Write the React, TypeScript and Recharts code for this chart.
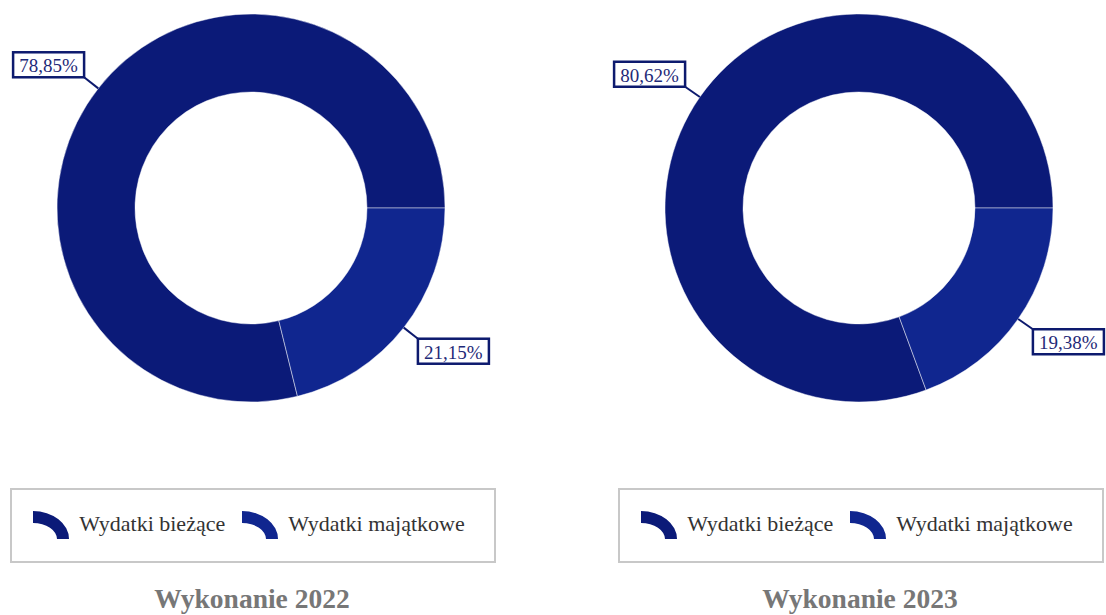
import React from 'react'
import { PieChart, Pie, Cell } from 'recharts'

const categories = ['Wydatki bieżące', 'Wydatki majątkowe']
const values2022 = [78.85, 21.15]
const values2023 = [80.62, 19.38]
const colors = ['#0B1A78', '#10268F']
const titles = ['Wykonanie 2022', 'Wykonanie 2023']

const RADIAN = Math.PI / 180
const FONT = '"Liberation Serif", "Times New Roman", serif'

const renderLabel = (props: any) => {
  const { cx, cy, midAngle, outerRadius, value } = props
  const cos = Math.cos(-midAngle * RADIAN)
  const sin = Math.sin(-midAngle * RADIAN)
  const sx = cx + outerRadius * cos
  const sy = cy + outerRadius * sin
  const ex = cx + (outerRadius + 18) * cos
  const ey = cy + (outerRadius + 18) * sin
  const text = Number(value).toFixed(2).replace('.', ',') + '%'
  const w = 71
  const h = 25
  const bx = cos < 0 ? ex - w : ex
  const by = sin < 0 ? ey - h : ey
  return (
    <g>
      <line x1={sx} y1={sy} x2={ex} y2={ey} stroke="#0d1a6e" strokeWidth={2} />
      <rect x={bx} y={by} width={w} height={h} fill="#fff" stroke="#0d1a6e" strokeWidth={2.5} />
      <text
        x={bx + w / 2}
        y={by + h / 2 + 1}
        textAnchor="middle"
        dominantBaseline="central"
        fill="#1f2a78"
        style={{ fontFamily: FONT, fontSize: 19 }}
      >
        {text}
      </text>
    </g>
  )
}

function LegendIcon({ color }: { color: string }) {
  return (
    <svg width={37} height={29} style={{ display: 'block' }}>
      <path d="M 0 0 A 36 28 0 0 1 36 28 L 24 28 A 24 16 0 0 0 0 12 Z" fill={color} />
    </svg>
  )
}

function Panel({ values, title, left }: { values: number[], title: string, left: number }) {
  const data = categories.map((name, i) => ({ name, value: values[i] }))
  return (
    <div style={{ position: 'absolute', left, top: 0, width: 504, height: 615 }}>
      <PieChart width={504} height={430} margin={{ top: 0, right: 0, bottom: 0, left: 0 }}>
        <Pie
          data={data}
          dataKey="value"
          nameKey="name"
          cx={251}
          cy={208}
          innerRadius={116}
          outerRadius={194}
          startAngle={0}
          endAngle={360}
          stroke="rgba(255,255,255,0.45)"
          strokeWidth={1}
          label={renderLabel}
          labelLine={false}
          isAnimationActive={false}
        >
          {data.map((d, i) => (
            <Cell key={d.name} fill={colors[i]} />
          ))}
        </Pie>
      </PieChart>
      <div
        style={{
          position: 'absolute',
          left: 10,
          top: 488,
          width: 482,
          height: 71,
          border: '2px solid #c8c8c8',
          display: 'flex',
          alignItems: 'center',
          justifyContent: 'center',
          boxSizing: 'content-box',
          paddingRight: 0,
          gap: 17,
          fontFamily: FONT,
          fontSize: 22,
          color: '#333',
        }}
      >
        <div style={{ display: 'flex', gap: 17, marginLeft: -8 }}>
          {categories.map((c, i) => (
            <div key={c} style={{ display: 'flex', alignItems: 'center', gap: 9 }}>
              <LegendIcon color={colors[i]} />
              <span style={{ position: 'relative', top: -2 }}>{c}</span>
            </div>
          ))}
        </div>
      </div>
      <div
        style={{
          position: 'absolute',
          left: 0,
          top: 584,
          width: 504,
          textAlign: 'center',
          fontFamily: FONT,
          fontWeight: 'bold',
          fontSize: 27.5,
          color: '#777',
          lineHeight: '30px',
        }}
      >
        {title}
      </div>
    </div>
  )
}

export default function App() {
  return (
    <div style={{ position: 'fixed', left: 0, top: 0, width: 1106, height: 615, background: '#fff', overflow: 'hidden' }}>
      <Panel values={values2022} title={titles[0]} left={0} />
      <Panel values={values2023} title={titles[1]} left={608} />
    </div>
  )
}
